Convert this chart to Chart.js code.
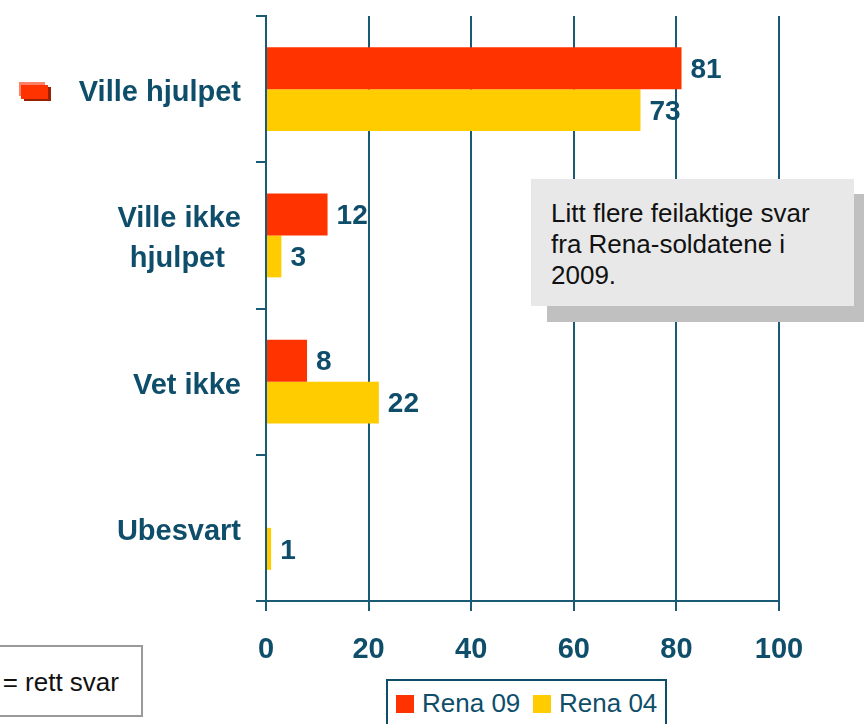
<!DOCTYPE html>
<html>
<head>
<meta charset="utf-8">
<script src="https://cdn.jsdelivr.net/npm/chart.js@4/dist/chart.umd.min.js"></script>
<style>
  body { margin: 0; background: #fff; }
  #wrap { position: relative; width: 864px; height: 724px; overflow: hidden; font-family: "Liberation Sans", Arial, sans-serif; }
  #chart { position: absolute; left: 0; top: 0; }
  .note { position: absolute; left: 531px; top: 179px; width: 323px; height: 127px; background: #e8e8e8; box-sizing: border-box; padding: 19px 0 0 20px; font-size: 26px; line-height: 31px; color: #111; }
  .note-shadow { position: absolute; left: 547px; top: 194px; width: 330px; height: 128px; background: #c0c0c0; }
  .answer { position: absolute; left: -20px; top: 645px; width: 163px; height: 72px; box-sizing: border-box; border: 2px solid #9a9a9a; background: #fff; }
  .answer span { position: absolute; right: 22px; top: 20px; font-size: 26px; color: #111; white-space: nowrap; }
  .legend { position: absolute; left: 386px; top: 679px; width: 281px; height: 70px; box-sizing: border-box; border: 2px solid #0f4e6a; background: #fff; }
  .legend i { position: absolute; top: 14px; width: 18px; height: 18px; }
  .legend span { position: absolute; top: 7px; font-size: 26px; color: #0f4e6a; white-space: nowrap; }
  .mark { position: absolute; }
</style>
</head>
<body>
<div id="wrap">
  <canvas id="chart" width="864" height="724"></canvas>
  <div class="note-shadow"></div>
  <div class="note">Litt flere feilaktige svar<br>fra Rena-soldatene i<br>2009.</div>
  <div class="mark" style="left:24px;top:87px;width:27px;height:14px;background:#992200"></div>
  <div class="mark" style="left:19px;top:82px;width:26px;height:14px;background:#ff8066"></div>
  <div class="mark" style="left:21px;top:85px;width:27px;height:14px;background:#ff3300"></div>
  <div class="answer"><span>= rett svar</span></div>
  <div class="legend" id="legend"></div>
</div>
<script>
const categories = ["Ville hjulpet", ["Ville ikke", "hjulpet  "], "Vet ikke", "Ubesvart"];
const seriesNames = ["Rena 09", "Rena 04"];
const rena09 = [81, 12, 8, 0];
const rena04 = [73, 3, 22, 1];
const seriesColors = ["#ff3300", "#ffcc00"];

const teal = "#0f4e6a";
const lineTeal = "#195a74";

// value labels at the end of each bar
const valueLabels = {
    id: "valueLabels",
    afterDatasetsDraw(chart) {
        const ctx = chart.ctx;
        ctx.save();
        ctx.font = "bold 28px 'Liberation Sans', Arial, sans-serif";
        ctx.fillStyle = teal;
        ctx.textAlign = "left";
        ctx.textBaseline = "middle";
        chart.data.datasets.forEach((ds, i) => {
            chart.getDatasetMeta(i).data.forEach((bar, j) => {
                const v = ds.data[j];
                if (!v) return;
                ctx.fillText(v, bar.x + 9, bar.y + 2);
            });
        });
        ctx.restore();
    }
};

new Chart(document.getElementById("chart"), {
    type: "bar",
    data: {
        labels: categories,
        datasets: [
            { label: seriesNames[0], data: rena09, backgroundColor: seriesColors[0], borderWidth: 0 },
            { label: seriesNames[1], data: rena04, backgroundColor: seriesColors[1], borderWidth: 0 }
        ]
    },
    options: {
        indexAxis: "y",
        responsive: false,
        animation: false,
        categoryPercentage: 0.574,
        barPercentage: 1,
        layout: { padding: { left: 0, right: 85, top: 16, bottom: 0 } },
        plugins: { legend: { display: false }, tooltip: { enabled: false } },
        scales: {
            x: {
                min: 0, max: 100,
                ticks: { stepSize: 20, color: teal, padding: 22,
                    font: { family: "'Liberation Sans', Arial, sans-serif", size: 29, weight: "bold" } },
                grid: { color: lineTeal, lineWidth: 2, tickLength: 10 },
                border: { color: lineTeal, width: 2 },
                afterFit(scale) { scale.height = 123; scale.paddingLeft = 0; scale.paddingRight = 0; }
            },
            y: {
                ticks: { color: teal, padding: 15, labelOffset: 4,
                    font: { family: "'Liberation Sans', Arial, sans-serif", size: 29, weight: "bold", lineHeight: 1.38 } },
                grid: { color: lineTeal, lineWidth: 2, tickLength: 10, drawOnChartArea: false, offset: true },
                border: { color: lineTeal, width: 2 },
                afterFit(scale) { scale.width = 266; scale.paddingTop = 0; scale.paddingBottom = 0; }
            }
        }
    },
    plugins: [valueLabels]
});

// legend below the chart
const legend = document.getElementById("legend");
const legendPos = [[8, 34], [145, 171]];
seriesNames.forEach((name, i) => {
    legend.insertAdjacentHTML("beforeend",
        `<i style="left:${legendPos[i][0]}px;background:${seriesColors[i]}"></i><span style="left:${legendPos[i][1]}px">${name}</span>`);
});
</script>
</body>
</html>
